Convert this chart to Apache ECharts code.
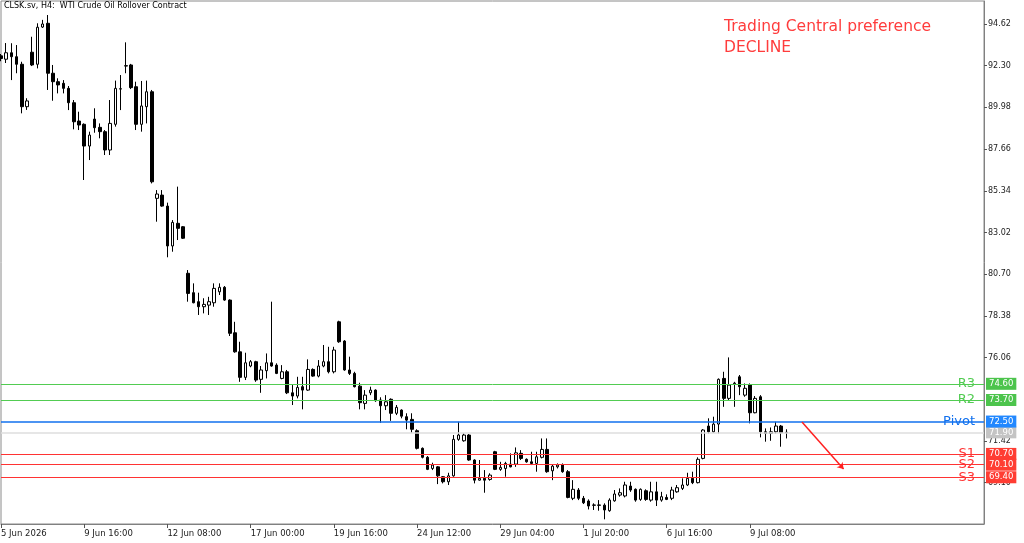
<!DOCTYPE html>
<html>
<head>
<meta charset="utf-8">
<title>CLSK.sv H4</title>
<script src="https://cdn.jsdelivr.net/npm/echarts@6/dist/echarts.min.js"></script>
<style>
    html, body { margin: 0; padding: 0; background: #fff; }
    #chartBox { width: 1024px; height: 543px; }
</style>
</head>
<body>
<div id="chartBox"></div>
<script>
// H4 candles (one entry per bar)
var opens = [92.85, 92.66, 93.02, 92.80, 92.38, 90.02, 93.05, 92.38, 94.45, 94.66,
    91.88, 91.41, 91.32, 91.04, 90.24, 89.22, 89.04, 87.83, 89.33, 88.87,
    88.63, 87.61, 89.04, 91.00, 92.30, 92.34, 91.13, 89.04, 90.02, 90.85,
    84.92, 85.10, 84.49, 82.27, 83.53, 83.34, 80.75, 79.67, 79.17, 78.89,
    78.98, 79.11, 79.72, 79.97, 79.26, 77.44, 76.38, 74.96, 75.59, 75.83,
    74.85, 75.33, 75.77, 75.64, 74.90, 75.27, 74.10, 73.92, 74.44, 74.25,
    75.40, 75.03, 75.59, 75.83, 75.27, 78.05, 76.98, 75.37, 75.18, 74.47,
    73.51, 74.10, 74.25, 73.70, 73.38, 73.74, 72.96, 73.14, 72.77, 72.62,
    71.99, 71.01, 70.51, 69.89, 69.98, 69.43, 69.15, 69.48, 71.51, 71.43,
    71.75, 70.36, 69.24, 69.34, 69.28, 70.82, 69.84, 69.89, 70.13, 70.13,
    70.73, 70.40, 70.26, 70.17, 70.51, 70.95, 69.76, 69.98, 70.08, 69.71,
    68.23, 68.69, 68.23, 68.08, 67.84, 67.86, 67.85, 67.54, 68.09, 68.41,
    68.36, 68.91, 68.73, 68.17, 68.65, 68.13, 68.59, 68.13, 68.28, 68.23,
    68.59, 68.78, 68.97, 69.34, 69.10, 70.45, 72.25, 71.93, 72.36, 74.90,
    73.79, 74.60, 74.99, 73.97, 74.53, 72.99, 73.88, 71.93, 71.84, 71.93,
    72.25, 71.88];
var closes = [92.70, 93.02, 92.80, 92.38, 90.02, 90.34, 92.34, 94.44, 94.62, 91.88,
    91.41, 91.23, 91.04, 90.24, 89.18, 89.00, 87.83, 88.44, 88.85, 88.63,
    87.61, 89.09, 91.04, 91.02, 92.28, 91.08, 89.04, 90.06, 90.85, 85.84,
    85.16, 84.49, 82.27, 83.58, 83.25, 82.70, 79.63, 79.11, 78.89, 79.02,
    79.17, 79.91, 79.97, 79.26, 77.41, 76.38, 74.96, 75.77, 75.83, 74.81,
    75.37, 75.77, 75.59, 75.18, 75.27, 74.10, 73.92, 74.40, 74.25, 75.40,
    75.03, 75.59, 75.83, 75.27, 76.48, 76.94, 75.37, 75.18, 74.44, 73.55,
    73.97, 74.25, 73.66, 73.38, 73.60, 72.96, 73.29, 72.80, 72.58, 72.07,
    71.01, 70.51, 69.84, 70.08, 69.48, 69.15, 69.48, 71.51, 71.75, 71.75,
    70.36, 69.24, 69.34, 69.24, 69.52, 69.84, 69.95, 70.17, 69.98, 70.76,
    70.45, 70.26, 70.17, 70.54, 70.95, 69.71, 70.02, 70.08, 69.71, 68.28,
    68.73, 68.23, 67.98, 67.80, 67.86, 67.84, 67.58, 68.13, 68.47, 68.54,
    68.97, 68.69, 68.13, 68.73, 68.17, 68.59, 68.13, 68.32, 68.17, 68.69,
    68.82, 68.97, 69.34, 69.10, 70.40, 72.03, 71.93, 72.36, 74.85, 73.79,
    74.53, 74.64, 74.44, 74.35, 72.99, 73.79, 71.93, 71.84, 71.93, 72.25,
    71.88, 71.90];
var lows = [92.55, 92.45, 91.50, 91.88, 89.65, 89.84, 92.28, 92.15, 94.40, 90.95,
    90.35, 90.76, 90.76, 89.83, 88.76, 88.72, 85.94, 87.05, 88.57, 88.26,
    87.33, 87.33, 88.91, 89.83, 91.88, 91.00, 88.72, 88.63, 89.09, 85.75,
    83.62, 84.45, 81.64, 81.95, 82.60, 82.66, 79.17, 79.08, 78.43, 78.52,
    78.43, 78.89, 79.54, 79.22, 77.26, 76.33, 74.71, 74.81, 75.52, 74.71,
    74.10, 74.90, 75.55, 75.14, 74.85, 74.03, 73.42, 73.79, 73.18, 74.21,
    74.99, 74.96, 75.52, 75.18, 75.18, 76.88, 75.33, 75.09, 74.40, 73.18,
    73.18, 73.97, 73.60, 72.43, 73.14, 72.54, 72.86, 72.68, 72.07, 71.88,
    70.95, 70.45, 69.80, 69.80, 69.02, 69.06, 68.97, 69.43, 71.43, 71.38,
    70.32, 69.06, 69.21, 68.54, 69.21, 69.80, 69.76, 69.43, 69.95, 69.98,
    70.36, 70.21, 70.08, 69.71, 70.45, 69.65, 69.24, 69.89, 69.65, 68.23,
    68.13, 68.13, 67.91, 67.61, 67.58, 67.54, 67.06, 67.48, 68.04, 68.32,
    68.28, 68.59, 68.04, 68.09, 68.09, 68.04, 67.80, 68.04, 68.13, 68.13,
    68.54, 68.69, 68.91, 69.02, 69.06, 70.40, 71.84, 71.88, 71.84, 73.32,
    73.70, 73.32, 73.97, 73.88, 72.40, 72.96, 71.62, 71.38, 71.43, 71.84,
    71.10, 71.56];
var highs = [92.95, 93.56, 93.55, 93.45, 92.52, 90.49, 93.91, 94.66, 94.85, 95.12,
    92.34, 91.60, 91.50, 91.17, 90.39, 89.74, 89.09, 88.63, 89.93, 89.09,
    88.72, 90.39, 91.47, 91.78, 93.60, 92.40, 91.41, 91.45, 91.47, 90.95,
    85.38, 85.38, 84.68, 83.71, 85.57, 83.38, 80.93, 80.19, 79.67, 79.36,
    79.44, 80.19, 80.19, 80.04, 79.30, 78.05, 76.94, 76.33, 75.92, 75.88,
    75.59, 76.29, 79.17, 75.74, 75.64, 75.37, 74.53, 74.99, 74.99, 75.96,
    75.46, 75.92, 76.76, 76.66, 76.66, 78.11, 77.03, 76.11, 75.27, 74.66,
    74.25, 74.44, 74.29, 73.85, 73.97, 73.79, 73.42, 73.18, 72.96, 72.96,
    72.07, 71.06, 70.58, 70.21, 70.02, 69.47, 69.65, 71.75, 72.49, 71.84,
    71.80, 70.40, 70.36, 69.80, 69.62, 70.87, 70.26, 70.26, 70.73, 71.06,
    70.91, 70.45, 70.82, 70.82, 71.56, 71.56, 70.13, 70.17, 70.17, 69.80,
    69.24, 68.80, 68.36, 68.17, 67.95, 68.13, 67.95, 68.23, 68.69, 68.78,
    69.15, 69.15, 68.78, 68.78, 68.73, 69.15, 69.15, 68.59, 68.45, 68.87,
    68.97, 69.34, 69.65, 69.71, 70.51, 72.08, 72.68, 72.77, 74.90, 75.27,
    76.07, 74.71, 75.09, 74.62, 74.62, 73.92, 73.97, 72.12, 72.17, 72.49,
    72.31, 72.07];

// time axis: one label every 16 bars, 190 bar slots across the window
var timeLabels = ['5 Jun 2026', '9 Jun 16:00', '12 Jun 08:00', '17 Jun 00:00', '19 Jun 16:00',
    '24 Jun 12:00', '29 Jun 04:00', '1 Jul 20:00', '6 Jul 16:00', '9 Jul 08:00'];
var labelStep = 16;
var slotCount = 190;

// price scale ticks
var priceTicks = [94.62, 92.30, 89.98, 87.66, 85.34, 83.02, 80.70, 78.38, 76.06, 71.42, 69.10];

// Trading Central levels
var levelNames = ['R3', 'R2', 'Pivot', 'S1', 'S2', 'S3'];
var levelValues = [74.60, 73.70, 72.50, 70.70, 70.10, 69.40];
var lastPrice = 71.90;
// expected move arrow: [bar slot, price] start and end
var arrowFrom = [154, 72.47];
var arrowTo = [162, 69.86];

// [line colour, tag colour, line width]
var levelColors = {
    R3: ['#52cc52', '#4cc44c', 1], R2: ['#52cc52', '#4cc44c', 1],
    Pivot: ['#1070ee', '#2288ff', 1.5],
    S1: ['#ff3333', '#ff3d33', 1], S2: ['#ff3333', '#ff3d33', 1], S3: ['#ff3333', '#ff3d33', 1]
};
var axisFont = 'DejaVu Sans';

function buildCategories() {
    var cats = [];
    for (var i = 0; i < slotCount; i++) {
        var k = i / labelStep;
        cats.push(i % labelStep === 0 && k < timeLabels.length ? timeLabels[k] : '');
    }
    return cats;
}

function buildCandles() {
    var list = [];
    for (var i = 0; i < opens.length; i++) {
        list.push([opens[i], closes[i], lows[i], highs[i]]);
    }
    return list;
}

function tagLabel(text, bg) {
    return {
        show: true, position: 'end', distance: 2,
        formatter: text, color: '#fff',
        backgroundColor: bg, padding: [2, 3, 1, 3],
        fontFamily: axisFont, fontSize: 8.5
    };
}

function buildMarkLines() {
    var lines = [];
    // current price first so the levels draw over it
    lines.push({
        yAxis: lastPrice,
        lineStyle: { color: '#dedede', width: 1.5, type: 'solid' },
        label: tagLabel(lastPrice.toFixed(2), '#c4c4c4')
    });
    for (var i = 0; i < levelNames.length; i++) {
        var c = levelColors[levelNames[i]];
        // tag carrier first (no stroke), then the visible level line on top
        lines.push({
            yAxis: levelValues[i],
            lineStyle: { color: c[0], width: 0 },
            label: tagLabel(levelValues[i].toFixed(2), c[1])
        });
        lines.push({
            yAxis: levelValues[i],
            lineStyle: { color: c[0], width: c[2], type: 'solid', opacity: 1 },
            label: {
                show: true, position: 'insideEnd', distance: 9,
                formatter: levelNames[i], color: c[0],
                fontFamily: axisFont, fontSize: 13
            }
        });
    }
    // arrow
    lines.push([
        { coord: arrowFrom, symbol: 'none', lineStyle: { color: '#ff2020', width: 1.5, type: 'solid' }, label: { show: false } },
        { coord: arrowTo, symbol: 'arrow', symbolSize: 6 }
    ]);
    return lines;
}

function setOptionCandle() {
    var option = {
        animation: false,
        backgroundColor: '#fff',
        title: [
            {
                text: 'CLSK.sv, H4:  WTI Crude Oil Rollover Contract',
                left: 4, top: 2, padding: 0,
                textStyle: { fontFamily: axisFont, fontSize: 8, fontWeight: 'normal', color: '#000' }
            },
            {
                text: 'Trading Central preference\nDECLINE',
                left: 724, top: 16, padding: 0,
                textStyle: { fontFamily: axisFont, fontSize: 15.5, fontWeight: 'normal', color: '#ff3c3c', lineHeight: 21 }
            }
        ],
        grid: {
            left: 1, right: 40, top: 1, bottom: 19,
            show: true, borderColor: '#8a8a8a', borderWidth: 1,
            outerBoundsMode: 'none'
        },
        xAxis: {
            type: 'category',
            data: buildCategories(),
            boundaryGap: false,
            axisLine: { lineStyle: { color: '#808080', width: 1 } },
            axisTick: {
                show: true, length: 4,
                interval: function (idx, val) { return val !== ''; },
                lineStyle: { color: '#555' }
            },
            axisLabel: {
                interval: function (idx, val) { return val !== ''; },
                align: 'left', margin: 5,
                fontFamily: axisFont, fontSize: 8.5, color: '#222'
            },
            splitLine: { show: false }
        },
        yAxis: {
            type: 'value',
            position: 'right',
            min: 66.80,
            max: 95.90,
            scale: true,
            axisLine: { show: true, lineStyle: { color: '#808080', width: 1 } },
            axisTick: { show: true, length: 3, customValues: priceTicks, lineStyle: { color: '#555' } },
            axisLabel: {
                customValues: priceTicks, margin: 4,
                formatter: function (v) { return v.toFixed(2); },
                fontFamily: axisFont, fontSize: 8, color: '#222'
            },
            splitLine: { show: false }
        },
        series: [
            {
                type: 'candlestick',
                data: buildCandles(),
                barWidth: 3,
                itemStyle: {
                    color: '#fff', color0: '#000',
                    borderColor: '#000', borderColor0: '#000',
                    borderWidth: 1
                },
                markLine: {
                    silent: true,
                    symbol: ['none', 'none'],
                    animation: false,
                    data: buildMarkLines()
                }
            }
        ]
    };
    return option;
}

var chart = echarts.init(document.getElementById('chartBox'));
chart.setOption(setOptionCandle());
</script>
</body>
</html>
